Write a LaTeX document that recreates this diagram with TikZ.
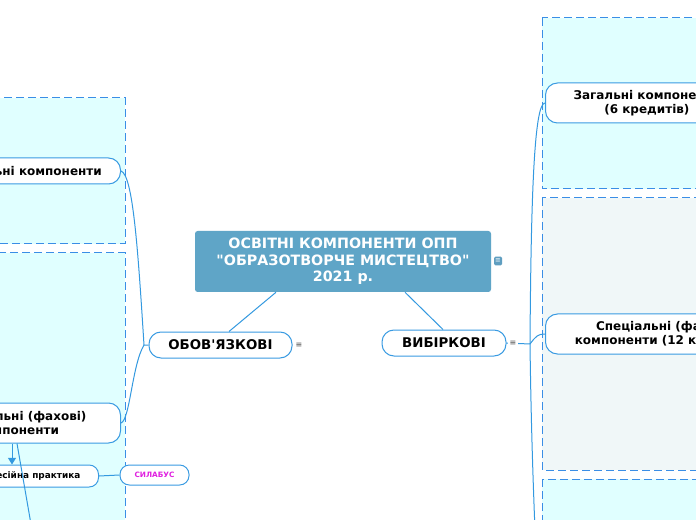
\documentclass[tikz,border=0pt]{standalone}
\usepackage{fontspec}
\setmainfont{DejaVu Sans}[Ligatures=TeXOff]
\usetikzlibrary{calc,arrows.meta}
\definecolor{rootfill}{HTML}{5FA5C7}
\definecolor{notefill}{HTML}{5F9EC0}
\definecolor{nodeline}{HTML}{3A9BE2}
\definecolor{linkcol}{HTML}{3399E0}
\definecolor{zoneline}{HTML}{3A8EE6}
\definecolor{cyanfill}{HTML}{E0FFFF}
\definecolor{grayfill}{HTML}{F0F7F8}
\definecolor{sylcol}{HTML}{E020E0}

\begin{document}
\begin{tikzpicture}[x=0.75pt,y=-0.75pt,
  pill/.style={draw=nodeline,fill=white,rounded corners=9pt,line width=0.75pt,
    font=\bfseries\fontsize{9}{10.5}\selectfont,align=center,inner ysep=0pt},
  zone/.style={draw=zoneline,dash pattern=on 6pt off 3pt,line width=0.75pt},
  link/.style={draw=linkcol,line width=0.75pt},
  dots/.style={text=black!70,font=\fontsize{6}{6}\selectfont,inner sep=1pt,fill=white}]
\useasboundingbox (0,0) rectangle (696,520);
\fill[white] (0,0) rectangle (696,520);
\draw[zone,fill=cyanfill] (-10,98) rectangle (125,244);
\draw[zone,fill=cyanfill] (-10,253) rectangle (125,540);
\draw[zone,fill=cyanfill] (542,18) rectangle (710,189);
\draw[zone,fill=grayfill] (542,198) rectangle (710,470);
\draw[zone,fill=cyanfill] (542,479) rectangle (710,540);

\node[fill=rootfill,rounded corners=2pt,minimum width=222pt,minimum height=45.75pt,
  text=white,align=center,font=\bfseries\fontsize{10.7}{12.4}\selectfont] (root) at (343,261.5)
  {ОСВІТНІ КОМПОНЕНТИ ОПП\\"ОБРАЗОТВОРЧЕ МИСТЕЦТВО"\\2021 р.};
\node[fill=notefill,rounded corners=1pt,minimum width=6pt,minimum height=6.5pt,inner sep=0pt,
  text=white,font=\fontsize{5}{5}\selectfont] (note) at (498,261) {≡};

\node[pill,minimum width=107.25pt,minimum height=19.5pt,font=\bfseries\fontsize{10}{11}\selectfont] (oblig) at (220.5,345) {ОБОВ'ЯЗКОВІ};
\node[pill,minimum width=93pt,minimum height=19.5pt,font=\bfseries\fontsize{10}{11}\selectfont] (elect) at (444,343) {ВИБІРКОВІ};
\node[dots,fill=none] (obligdots) at (299,345) {≡};

\node[pill,anchor=east,minimum height=19.5pt,inner xsep=14pt] (lgen) at (121,171) {Загальні компоненти};
\node[pill,anchor=east,minimum height=30pt,minimum width=154.5pt] (lspec) at (121,423) {Спеціальні (фахові)\\компоненти};
\node[pill,anchor=east,minimum height=16.5pt,inner xsep=13.5pt,rounded corners=7pt,
  font=\bfseries\fontsize{6.7}{8}\selectfont] (prac) at (99,476) {Професійна практика};
\node[pill,minimum width=51.75pt,minimum height=15pt,rounded corners=7pt,text=sylcol,
  font=\bfseries\fontsize{5.5}{6}\selectfont] (syl) at (154.5,475) {СИЛАБУС};

\node[pill,anchor=west,minimum height=30pt,inner xsep=21pt] (rgen) at (545,103) {Загальні компоненти\\(6 кредитів)};
\node[pill,anchor=west,minimum height=30pt,inner xsep=22pt] (rspec) at (545,334) {Спеціальні (фахові)\\компоненти (12 кредитів)};

\coordinate (lhub) at (144,345);
\coordinate (rhub) at (530,344);
\coordinate (llow) at (32,530);
\coordinate (rlow) at (535,530);

\draw[link] ($(root.south)+(-67,0)$) -- ($(oblig.north)+(8.5,0)$);
\draw[link] ($(root.south)+(62,0)$) -- ($(elect.north)+(-1,0)$);

\draw[link] (oblig.west) -- (lhub) .. controls (138,250) and (133,175) .. (lgen.east);
\draw[link] (lhub) .. controls (132,365) and (130,420) .. (lspec.east);
\draw[link,-{Triangle[width=6pt,length=5pt]}] ($(lspec.south east)+(-109,0)$) -- ($(prac.north east)+(-87,0)$);
\draw[link] ($(lspec.south east)+(-104,0)$) -- (llow);
\draw[link] (prac.east) -- (syl.west);

\draw[link] (elect.east) -- (rhub);
\node[dots] (electdots) at (513,343) {≡};
\draw[link] (rhub) .. controls (531,200) and (534,103) .. (rgen.west);
\draw[link] (rhub) .. controls (536,336) and (538,334) .. (rspec.west);
\draw[link] (rhub) .. controls (531,420) and (533,480) .. (rlow);
\end{tikzpicture}
\end{document}
